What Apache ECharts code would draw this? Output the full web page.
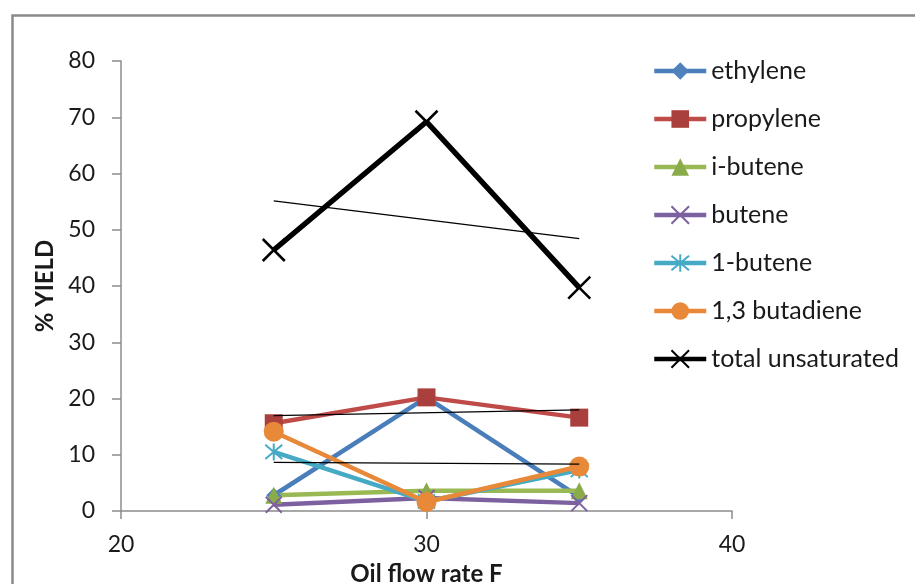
<!DOCTYPE html>
<html>
<head>
<meta charset="utf-8">
<script src="https://cdn.jsdelivr.net/npm/echarts@6/dist/echarts.min.js"></script>
<style>
html,body{margin:0;padding:0;background:#fff;}
#chart{width:915px;height:584px;}
</style>
</head>
<body>
<div id="chart"></div>
<script>
// ---- data ----
const flowRates = [25, 30, 35];
const ethylene = [2.8, 20.2, 2.5];
const propylene = [15.6, 20.2, 16.6];
const iButene = [2.8, 3.6, 3.6];
const butene = [1.1, 2.3, 1.4];
const oneButene = [10.5, 1.7, 7.3];
const butadiene = [14.1, 1.6, 7.9];
const totalUnsaturated = [46.4, 69.2, 39.7];
const xTicks = [20, 30, 40];
const yTicks = [0, 10, 20, 30, 40, 50, 60, 70, 80];

const FONT = 'Lato';
const X_PATH = 'path://M0,0 L10,10 M10,0 L0,10';
const STAR_PATH = 'path://M0,0 L10,10 M10,0 L0,10 M5,-1 L5,11';

function pairs(ys) { return flowRates.map((x, i) => [x, ys[i]]); }
function trend(ys) {
  const n = flowRates.length;
  const mx = flowRates.reduce((a, b) => a + b, 0) / n;
  const my = ys.reduce((a, b) => a + b, 0) / n;
  let sxy = 0, sxx = 0;
  for (let i = 0; i < n; i++) { sxy += (flowRates[i] - mx) * (ys[i] - my); sxx += (flowRates[i] - mx) ** 2; }
  const b = sxy / sxx, a = my - b * mx;
  const x0 = flowRates[0], x1 = flowRates[n - 1];
  return [[x0, a + b * x0], [x1, a + b * x1]];
}

function lineSeries(name, ys, color, symbol, size, width, stroke, markerColor) {
  const mc = markerColor || color;
  return {
    name, type: 'line', data: pairs(ys), symbol, symbolSize: size,
    showAllSymbol: true,
    lineStyle: { color, width },
    itemStyle: stroke ? { color: mc, borderColor: mc, borderWidth: stroke } : { color: mc, borderWidth: 0 },
    emphasis: { disabled: true },
    animation: false
  };
}
function trendSeries(ys) {
  return {
    type: 'line', data: trend(ys), symbol: 'none', z: 5,
    lineStyle: { color: '#000', width: 1.3 }, animation: false, silent: true
  };
}

const chart = echarts.init(document.getElementById('chart'), null, { renderer: 'canvas' });
chart.setOption({
  animation: false,
  backgroundColor: '#fff',
  textStyle: { fontFamily: FONT },
  graphic: [{
    type: 'rect', left: 10, top: 13, shape: { width: 1000, height: 1000 },
    style: { fill: 'none', stroke: '#8a8a8a', lineWidth: 2.5 }, silent: true
  }],
  grid: { left: 121, right: 183, top: 61, bottom: 73, containLabel: false, outerBoundsMode: 'none' },
  legend: {
    orient: 'vertical', left: 647, top: 53, padding: 5,
    itemWidth: 52, itemHeight: 22, itemGap: 22,
    lineStyle: { width: 4.5 },
    textStyle: { fontFamily: FONT, fontSize: 25, color: '#1a1a1a', lineHeight: 26 },
    data: ['ethylene', 'propylene', 'i-butene', 'butene', '1-butene', '1,3 butadiene', 'total unsaturated']
  },
  xAxis: {
    type: 'value', min: xTicks[0], max: xTicks[xTicks.length - 1], interval: 10,
    name: 'Oil flow rate F', nameLocation: 'middle', nameGap: 51,
    nameTextStyle: { fontFamily: FONT, fontWeight: 'bold', fontSize: 24, color: '#1a1a1a' },
    axisLine: { onZero: false, lineStyle: { color: '#8c8c8c', width: 1.5 } },
    axisTick: { show: true, length: 8, lineStyle: { color: '#8c8c8c', width: 1.5 } },
    axisLabel: { fontFamily: FONT, fontSize: 23, color: '#1a1a1a', margin: 22 },
    splitLine: { show: false }
  },
  yAxis: {
    type: 'value', min: yTicks[0], max: yTicks[yTicks.length - 1], interval: 10,
    name: '% YIELD', nameLocation: 'middle', nameGap: 64, nameRotate: 90,
    nameTextStyle: { fontFamily: FONT, fontWeight: 'bold', fontSize: 24, color: '#1a1a1a' },
    axisLine: { show: true, lineStyle: { color: '#8c8c8c', width: 1.5 } },
    axisTick: { show: true, length: 9, lineStyle: { color: '#8c8c8c', width: 1.5 } },
    axisLabel: { fontFamily: FONT, fontSize: 23, color: '#1a1a1a', margin: 26 },
    splitLine: { show: false }
  },
  series: [
    lineSeries('ethylene', ethylene, '#4A7EBB', 'diamond', 15, 4.5, 0, '#4F81BD'),
    lineSeries('propylene', propylene, '#BE4B48', 'rect', 18, 4.5, 0, '#A9403D'),
    lineSeries('i-butene', iButene, '#98B954', 'triangle', 17, 4.5, 0, '#8AAB49'),
    lineSeries('butene', butene, '#7D60A0', X_PATH, 16, 4.5, 2, '#7D60A0'),
    lineSeries('1-butene', oneButene, '#46AAC5', STAR_PATH, 17, 4.5, 2, '#46AAC5'),
    lineSeries('1,3 butadiene', butadiene, '#E8893A', 'circle', 20, 4.5, 0, '#E8893A'),
    lineSeries('total unsaturated', totalUnsaturated, '#000000', X_PATH, 22, 5.5, 2.5, '#000000'),
    trendSeries(ethylene),
    trendSeries(propylene),
    trendSeries(totalUnsaturated)
  ]
});
</script>
</body>
</html>
